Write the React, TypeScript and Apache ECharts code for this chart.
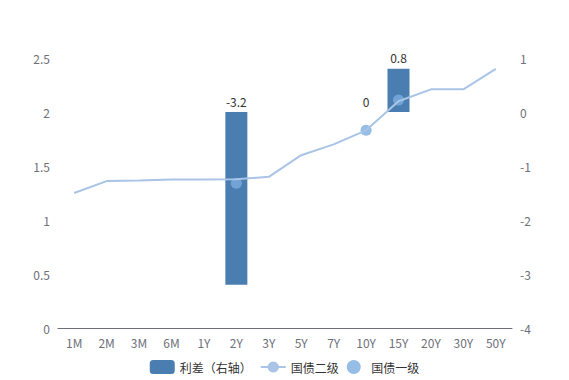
import React, { useEffect, useRef } from "react";
import * as echarts from "echarts";

const categories = ["1M", "2M", "3M", "6M", "1Y", "2Y", "3Y", "5Y", "7Y", "10Y", "15Y", "20Y", "30Y", "50Y"];
const spreadValues: (number | null)[] = [null, null, null, null, null, -3.2, null, null, null, 0, 0.8, null, null, null];
const secondaryValues = [1.25, 1.36, 1.365, 1.375, 1.375, 1.378, 1.4, 1.6, 1.7, 1.83, 2.1, 2.21, 2.21, 2.4];
const primaryValues: (number | null)[] = [null, null, null, null, null, 1.34, null, null, null, 1.83, 2.11, null, null, null];

export default function App() {
  const ref = useRef<HTMLDivElement>(null);
  useEffect(() => {
    document.body.style.margin = "0";
    const chart = echarts.init(ref.current!, null, { renderer: "svg" });
    const axisLabel = { color: "#6e7079", fontSize: 12 };
    chart.setOption({
      animation: false,
      textStyle: { fontFamily: "'Noto Sans CJK SC', sans-serif" },
      grid: { left: 58, right: 57, top: 58, bottom: 52 },
      legend: {
        bottom: 1,
        itemWidth: 25,
        itemHeight: 14,
        textStyle: { color: "#333", fontSize: 12 },
        data: ["利差（右轴）", "国债二级", "国债一级"],
      },
      xAxis: {
        type: "category",
        data: categories,
        axisLine: { lineStyle: { color: "#6e7079" } },
        axisTick: { lineStyle: { color: "#6e7079" } },
        axisLabel,
      },
      yAxis: [
        {
          type: "value",
          min: 0,
          max: 2.5,
          interval: 0.5,
          splitLine: { show: false },
          axisLine: { show: false },
          axisLabel,
        },
        {
          type: "value",
          min: -4,
          max: 1,
          interval: 1,
          splitLine: { show: false },
          axisLine: { show: false },
          axisLabel,
        },
      ],
      series: [
        {
          name: "利差（右轴）",
          type: "bar",
          yAxisIndex: 1,
          data: spreadValues,
          barWidth: 22,
          itemStyle: { color: "#4a7eb0" },
          label: { show: true, position: "top", color: "#333", fontSize: 12 },
        },
        {
          name: "国债二级",
          type: "line",
          yAxisIndex: 0,
          data: secondaryValues,
          showSymbol: false,
          symbol: "circle",
          symbolSize: 8,
          itemStyle: { color: "#a9c4e6" },
          lineStyle: { color: "#a9c4e6", width: 2 },
        },
        {
          name: "国债一级",
          type: "scatter",
          yAxisIndex: 0,
          data: primaryValues,
          symbolSize: 11,
          itemStyle: { color: "#7badde" },
        },
      ],
    });
    return () => chart.dispose();
  }, []);
  return <div ref={ref} style={{ width: 569, height: 380 }} />;
}
